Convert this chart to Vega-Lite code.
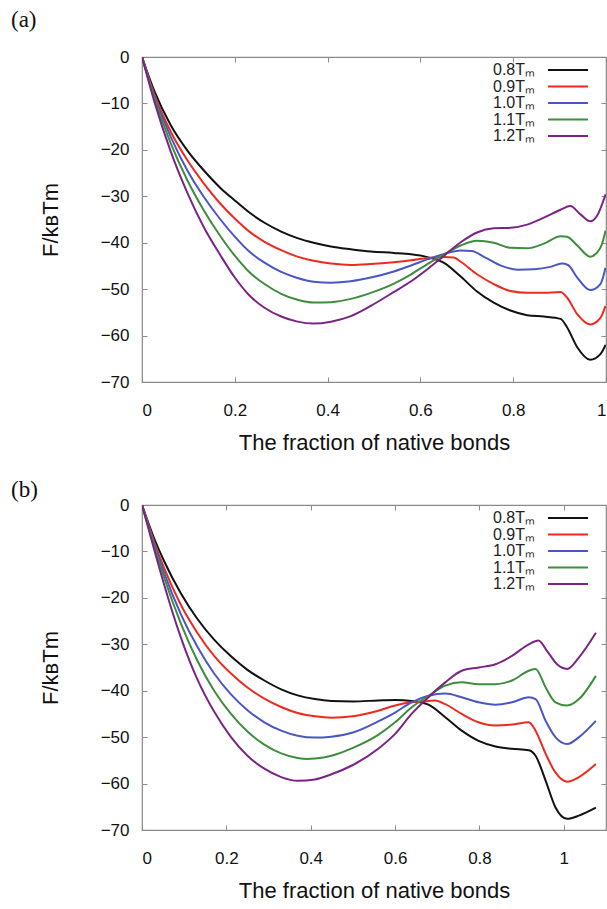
{
"$schema": "https://vega.github.io/schema/vega-lite/v6.json",
"background": "white",
"padding": {"left": 10, "top": 8, "right": 2, "bottom": 0},
"spacing": 24,
"config": {
 "view": {"stroke": "#8a8a8a", "strokeWidth": 1.2},
 "font": "Liberation Sans",
 "axis": {"grid": false, "domain": false, "tickColor": "#8a8a8a", "tickSize": -5, "labelFont": "Liberation Sans", "labelFontSize": 17, "labelColor": "#111", "titleFont": "Liberation Sans", "titleFontSize": 22, "titleFontWeight": "normal", "titleColor": "#111"},
 "legend": {"orient": "none", "legendX": 418, "legendY": 5, "title": null, "symbolType": "M-5,0L5,0", "symbolSize": 64, "symbolStrokeWidth": 2, "labelAlign": "right", "labelOffset": -41, "labelFontSize": 16, "labelFont": "Liberation Sans", "labelColor": "#222", "rowPadding": 0.5}
},
"resolve": {"scale": {"color": "independent", "x": "independent", "y": "independent"}, "legend": {"color": "independent"}},
"datasets": {
"a": [
{"s":"0.8Tₘ","x":0,"y":0},{"s":"0.8Tₘ","x":0.026,"y":-7.2},{"s":"0.8Tₘ","x":0.062,"y":-14.7},{"s":"0.8Tₘ","x":0.0975,"y":-20.1},{"s":"0.8Tₘ","x":0.133,"y":-24.4},{"s":"0.8Tₘ","x":0.169,"y":-28.2},{"s":"0.8Tₘ","x":0.2,"y":-30.9},{"s":"0.8Tₘ","x":0.23,"y":-33.4},{"s":"0.8Tₘ","x":0.264,"y":-35.7},{"s":"0.8Tₘ","x":0.3,"y":-37.6},{"s":"0.8Tₘ","x":0.335,"y":-39},{"s":"0.8Tₘ","x":0.37,"y":-40},{"s":"0.8Tₘ","x":0.407,"y":-40.8},{"s":"0.8Tₘ","x":0.45,"y":-41.4},{"s":"0.8Tₘ","x":0.493,"y":-41.9},{"s":"0.8Tₘ","x":0.543,"y":-42.2},{"s":"0.8Tₘ","x":0.58,"y":-42.5},{"s":"0.8Tₘ","x":0.615,"y":-43.1},{"s":"0.8Tₘ","x":0.65,"y":-44.3},{"s":"0.8Tₘ","x":0.687,"y":-47.3},{"s":"0.8Tₘ","x":0.722,"y":-50.5},{"s":"0.8Tₘ","x":0.758,"y":-52.9},{"s":"0.8Tₘ","x":0.794,"y":-54.6},{"s":"0.8Tₘ","x":0.83,"y":-55.6},{"s":"0.8Tₘ","x":0.866,"y":-55.9},{"s":"0.8Tₘ","x":0.902,"y":-56.4},{"s":"0.8Tₘ","x":0.916,"y":-58.2},{"s":"0.8Tₘ","x":0.938,"y":-62.5},{"s":"0.8Tₘ","x":0.966,"y":-65.2},{"s":"0.8Tₘ","x":0.988,"y":-64},{"s":"0.8Tₘ","x":0.999,"y":-62},
{"s":"0.9Tₘ","x":0,"y":0},{"s":"0.9Tₘ","x":0.026,"y":-7.9},{"s":"0.9Tₘ","x":0.062,"y":-16.1},{"s":"0.9Tₘ","x":0.0975,"y":-22.2},{"s":"0.9Tₘ","x":0.133,"y":-27.2},{"s":"0.9Tₘ","x":0.169,"y":-31.6},{"s":"0.9Tₘ","x":0.2,"y":-34.8},{"s":"0.9Tₘ","x":0.23,"y":-37.5},{"s":"0.9Tₘ","x":0.264,"y":-39.8},{"s":"0.9Tₘ","x":0.3,"y":-41.6},{"s":"0.9Tₘ","x":0.335,"y":-43},{"s":"0.9Tₘ","x":0.37,"y":-43.9},{"s":"0.9Tₘ","x":0.407,"y":-44.5},{"s":"0.9Tₘ","x":0.45,"y":-44.8},{"s":"0.9Tₘ","x":0.493,"y":-44.6},{"s":"0.9Tₘ","x":0.543,"y":-44.2},{"s":"0.9Tₘ","x":0.58,"y":-43.8},{"s":"0.9Tₘ","x":0.615,"y":-43.3},{"s":"0.9Tₘ","x":0.651,"y":-43.1},{"s":"0.9Tₘ","x":0.672,"y":-43.2},{"s":"0.9Tₘ","x":0.687,"y":-44.1},{"s":"0.9Tₘ","x":0.722,"y":-46.8},{"s":"0.9Tₘ","x":0.758,"y":-48.9},{"s":"0.9Tₘ","x":0.794,"y":-50.4},{"s":"0.9Tₘ","x":0.83,"y":-50.8},{"s":"0.9Tₘ","x":0.866,"y":-50.8},{"s":"0.9Tₘ","x":0.902,"y":-50.6},{"s":"0.9Tₘ","x":0.916,"y":-51.8},{"s":"0.9Tₘ","x":0.938,"y":-55.4},{"s":"0.9Tₘ","x":0.966,"y":-57.6},{"s":"0.9Tₘ","x":0.988,"y":-56.2},{"s":"0.9Tₘ","x":0.999,"y":-53.6},
{"s":"1.0Tₘ","x":0,"y":0},{"s":"1.0Tₘ","x":0.026,"y":-8.3},{"s":"1.0Tₘ","x":0.062,"y":-17.2},{"s":"1.0Tₘ","x":0.0975,"y":-24.4},{"s":"1.0Tₘ","x":0.133,"y":-30.1},{"s":"1.0Tₘ","x":0.169,"y":-35},{"s":"1.0Tₘ","x":0.2,"y":-38.7},{"s":"1.0Tₘ","x":0.23,"y":-41.8},{"s":"1.0Tₘ","x":0.264,"y":-44.3},{"s":"1.0Tₘ","x":0.3,"y":-46.3},{"s":"1.0Tₘ","x":0.335,"y":-47.6},{"s":"1.0Tₘ","x":0.37,"y":-48.4},{"s":"1.0Tₘ","x":0.407,"y":-48.6},{"s":"1.0Tₘ","x":0.45,"y":-48.3},{"s":"1.0Tₘ","x":0.493,"y":-47.5},{"s":"1.0Tₘ","x":0.543,"y":-46.2},{"s":"1.0Tₘ","x":0.58,"y":-44.9},{"s":"1.0Tₘ","x":0.615,"y":-43.6},{"s":"1.0Tₘ","x":0.651,"y":-42.4},{"s":"1.0Tₘ","x":0.687,"y":-41.7},{"s":"1.0Tₘ","x":0.71,"y":-41.8},{"s":"1.0Tₘ","x":0.74,"y":-43.2},{"s":"1.0Tₘ","x":0.775,"y":-45},{"s":"1.0Tₘ","x":0.81,"y":-45.8},{"s":"1.0Tₘ","x":0.845,"y":-45.7},{"s":"1.0Tₘ","x":0.88,"y":-45.2},{"s":"1.0Tₘ","x":0.905,"y":-44.5},{"s":"1.0Tₘ","x":0.918,"y":-44.8},{"s":"1.0Tₘ","x":0.938,"y":-47.5},{"s":"1.0Tₘ","x":0.966,"y":-50.2},{"s":"1.0Tₘ","x":0.988,"y":-48.9},{"s":"1.0Tₘ","x":0.999,"y":-45.4},
{"s":"1.1Tₘ","x":0,"y":0},{"s":"1.1Tₘ","x":0.026,"y":-8.7},{"s":"1.1Tₘ","x":0.062,"y":-18.6},{"s":"1.1Tₘ","x":0.0975,"y":-26.5},{"s":"1.1Tₘ","x":0.133,"y":-33},{"s":"1.1Tₘ","x":0.169,"y":-38.6},{"s":"1.1Tₘ","x":0.2,"y":-42.8},{"s":"1.1Tₘ","x":0.23,"y":-46.2},{"s":"1.1Tₘ","x":0.264,"y":-48.9},{"s":"1.1Tₘ","x":0.3,"y":-51},{"s":"1.1Tₘ","x":0.335,"y":-52.3},{"s":"1.1Tₘ","x":0.37,"y":-52.9},{"s":"1.1Tₘ","x":0.407,"y":-52.8},{"s":"1.1Tₘ","x":0.45,"y":-52.1},{"s":"1.1Tₘ","x":0.493,"y":-50.8},{"s":"1.1Tₘ","x":0.543,"y":-48.8},{"s":"1.1Tₘ","x":0.58,"y":-46.8},{"s":"1.1Tₘ","x":0.615,"y":-44.6},{"s":"1.1Tₘ","x":0.651,"y":-42.5},{"s":"1.1Tₘ","x":0.687,"y":-40.6},{"s":"1.1Tₘ","x":0.722,"y":-39.6},{"s":"1.1Tₘ","x":0.758,"y":-40},{"s":"1.1Tₘ","x":0.794,"y":-41.1},{"s":"1.1Tₘ","x":0.83,"y":-41.2},{"s":"1.1Tₘ","x":0.866,"y":-40.2},{"s":"1.1Tₘ","x":0.902,"y":-38.6},{"s":"1.1Tₘ","x":0.916,"y":-38.7},{"s":"1.1Tₘ","x":0.938,"y":-40.6},{"s":"1.1Tₘ","x":0.966,"y":-43},{"s":"1.1Tₘ","x":0.988,"y":-41.1},{"s":"1.1Tₘ","x":0.999,"y":-37.4},
{"s":"1.2Tₘ","x":0,"y":0},{"s":"1.2Tₘ","x":0.026,"y":-9.4},{"s":"1.2Tₘ","x":0.062,"y":-20.4},{"s":"1.2Tₘ","x":0.0975,"y":-29.2},{"s":"1.2Tₘ","x":0.133,"y":-36.6},{"s":"1.2Tₘ","x":0.169,"y":-42.7},{"s":"1.2Tₘ","x":0.2,"y":-47.5},{"s":"1.2Tₘ","x":0.23,"y":-51.2},{"s":"1.2Tₘ","x":0.264,"y":-54},{"s":"1.2Tₘ","x":0.3,"y":-55.9},{"s":"1.2Tₘ","x":0.335,"y":-57},{"s":"1.2Tₘ","x":0.37,"y":-57.4},{"s":"1.2Tₘ","x":0.407,"y":-57},{"s":"1.2Tₘ","x":0.45,"y":-55.8},{"s":"1.2Tₘ","x":0.493,"y":-53.6},{"s":"1.2Tₘ","x":0.543,"y":-50.6},{"s":"1.2Tₘ","x":0.58,"y":-48.3},{"s":"1.2Tₘ","x":0.615,"y":-45.7},{"s":"1.2Tₘ","x":0.651,"y":-42.8},{"s":"1.2Tₘ","x":0.687,"y":-39.9},{"s":"1.2Tₘ","x":0.722,"y":-37.8},{"s":"1.2Tₘ","x":0.758,"y":-36.9},{"s":"1.2Tₘ","x":0.794,"y":-36.8},{"s":"1.2Tₘ","x":0.83,"y":-36.1},{"s":"1.2Tₘ","x":0.866,"y":-34.6},{"s":"1.2Tₘ","x":0.902,"y":-32.9},{"s":"1.2Tₘ","x":0.923,"y":-32.1},{"s":"1.2Tₘ","x":0.945,"y":-33.9},{"s":"1.2Tₘ","x":0.966,"y":-35.4},{"s":"1.2Tₘ","x":0.98,"y":-34.3},{"s":"1.2Tₘ","x":0.999,"y":-29.6}
],
"b": [
{"s":"0.8Tₘ","x":0,"y":0},{"s":"0.8Tₘ","x":0.028,"y":-7},{"s":"0.8Tₘ","x":0.052,"y":-12},{"s":"0.8Tₘ","x":0.092,"y":-19},{"s":"0.8Tₘ","x":0.131,"y":-24.5},{"s":"0.8Tₘ","x":0.171,"y":-29},{"s":"0.8Tₘ","x":0.211,"y":-32.6},{"s":"0.8Tₘ","x":0.25,"y":-35.5},{"s":"0.8Tₘ","x":0.29,"y":-37.8},{"s":"0.8Tₘ","x":0.33,"y":-39.7},{"s":"0.8Tₘ","x":0.369,"y":-41},{"s":"0.8Tₘ","x":0.41,"y":-41.8},{"s":"0.8Tₘ","x":0.449,"y":-42.2},{"s":"0.8Tₘ","x":0.5,"y":-42.3},{"s":"0.8Tₘ","x":0.56,"y":-42.1},{"s":"0.8Tₘ","x":0.6,"y":-42},{"s":"0.8Tₘ","x":0.639,"y":-42.2},{"s":"0.8Tₘ","x":0.679,"y":-43},{"s":"0.8Tₘ","x":0.719,"y":-45.7},{"s":"0.8Tₘ","x":0.758,"y":-48.6},{"s":"0.8Tₘ","x":0.798,"y":-50.8},{"s":"0.8Tₘ","x":0.838,"y":-52},{"s":"0.8Tₘ","x":0.877,"y":-52.5},{"s":"0.8Tₘ","x":0.917,"y":-52.8},{"s":"0.8Tₘ","x":0.933,"y":-54},{"s":"0.8Tₘ","x":0.957,"y":-59.4},{"s":"0.8Tₘ","x":0.98,"y":-65.1},{"s":"0.8Tₘ","x":1.008,"y":-67.6},{"s":"0.8Tₘ","x":1.036,"y":-66.9},{"s":"0.8Tₘ","x":1.076,"y":-65.2},
{"s":"0.9Tₘ","x":0,"y":0},{"s":"0.9Tₘ","x":0.028,"y":-7.7},{"s":"0.9Tₘ","x":0.052,"y":-13.5},{"s":"0.9Tₘ","x":0.092,"y":-21.5},{"s":"0.9Tₘ","x":0.131,"y":-27.5},{"s":"0.9Tₘ","x":0.171,"y":-32.5},{"s":"0.9Tₘ","x":0.211,"y":-36.3},{"s":"0.9Tₘ","x":0.25,"y":-39.3},{"s":"0.9Tₘ","x":0.29,"y":-41.7},{"s":"0.9Tₘ","x":0.33,"y":-43.5},{"s":"0.9Tₘ","x":0.369,"y":-44.8},{"s":"0.9Tₘ","x":0.41,"y":-45.5},{"s":"0.9Tₘ","x":0.449,"y":-45.8},{"s":"0.9Tₘ","x":0.5,"y":-45.5},{"s":"0.9Tₘ","x":0.56,"y":-44.3},{"s":"0.9Tₘ","x":0.6,"y":-43.2},{"s":"0.9Tₘ","x":0.639,"y":-42.5},{"s":"0.9Tₘ","x":0.679,"y":-42.2},{"s":"0.9Tₘ","x":0.695,"y":-42.1},{"s":"0.9Tₘ","x":0.719,"y":-42.9},{"s":"0.9Tₘ","x":0.758,"y":-45},{"s":"0.9Tₘ","x":0.798,"y":-46.8},{"s":"0.9Tₘ","x":0.838,"y":-47.5},{"s":"0.9Tₘ","x":0.877,"y":-47.3},{"s":"0.9Tₘ","x":0.917,"y":-46.8},{"s":"0.9Tₘ","x":0.933,"y":-48.6},{"s":"0.9Tₘ","x":0.957,"y":-53.6},{"s":"0.9Tₘ","x":0.98,"y":-57.6},{"s":"0.9Tₘ","x":1.008,"y":-59.6},{"s":"0.9Tₘ","x":1.036,"y":-58.6},{"s":"0.9Tₘ","x":1.076,"y":-55.8},
{"s":"1.0Tₘ","x":0,"y":0},{"s":"1.0Tₘ","x":0.028,"y":-8.1},{"s":"1.0Tₘ","x":0.052,"y":-14.5},{"s":"1.0Tₘ","x":0.092,"y":-23.5},{"s":"1.0Tₘ","x":0.131,"y":-30.5},{"s":"1.0Tₘ","x":0.171,"y":-36.3},{"s":"1.0Tₘ","x":0.211,"y":-40.8},{"s":"1.0Tₘ","x":0.25,"y":-44.2},{"s":"1.0Tₘ","x":0.29,"y":-46.8},{"s":"1.0Tₘ","x":0.33,"y":-48.6},{"s":"1.0Tₘ","x":0.369,"y":-49.7},{"s":"1.0Tₘ","x":0.41,"y":-50.1},{"s":"1.0Tₘ","x":0.449,"y":-49.9},{"s":"1.0Tₘ","x":0.5,"y":-49},{"s":"1.0Tₘ","x":0.56,"y":-46.6},{"s":"1.0Tₘ","x":0.6,"y":-44.7},{"s":"1.0Tₘ","x":0.639,"y":-42.5},{"s":"1.0Tₘ","x":0.679,"y":-41.1},{"s":"1.0Tₘ","x":0.719,"y":-40.6},{"s":"1.0Tₘ","x":0.758,"y":-41.4},{"s":"1.0Tₘ","x":0.798,"y":-42.5},{"s":"1.0Tₘ","x":0.838,"y":-43},{"s":"1.0Tₘ","x":0.877,"y":-42.5},{"s":"1.0Tₘ","x":0.917,"y":-41.4},{"s":"1.0Tₘ","x":0.933,"y":-41.8},{"s":"1.0Tₘ","x":0.957,"y":-46.5},{"s":"1.0Tₘ","x":0.98,"y":-50},{"s":"1.0Tₘ","x":1.008,"y":-51.5},{"s":"1.0Tₘ","x":1.036,"y":-50},{"s":"1.0Tₘ","x":1.076,"y":-46.5},
{"s":"1.1Tₘ","x":0,"y":0},{"s":"1.1Tₘ","x":0.028,"y":-8.6},{"s":"1.1Tₘ","x":0.052,"y":-15.5},{"s":"1.1Tₘ","x":0.092,"y":-25.5},{"s":"1.1Tₘ","x":0.131,"y":-33.5},{"s":"1.1Tₘ","x":0.171,"y":-40},{"s":"1.1Tₘ","x":0.211,"y":-45},{"s":"1.1Tₘ","x":0.25,"y":-48.8},{"s":"1.1Tₘ","x":0.29,"y":-51.6},{"s":"1.1Tₘ","x":0.33,"y":-53.5},{"s":"1.1Tₘ","x":0.369,"y":-54.5},{"s":"1.1Tₘ","x":0.392,"y":-54.7},{"s":"1.1Tₘ","x":0.41,"y":-54.6},{"s":"1.1Tₘ","x":0.449,"y":-54},{"s":"1.1Tₘ","x":0.5,"y":-52.3},{"s":"1.1Tₘ","x":0.56,"y":-49.5},{"s":"1.1Tₘ","x":0.6,"y":-46.8},{"s":"1.1Tₘ","x":0.639,"y":-43.6},{"s":"1.1Tₘ","x":0.679,"y":-41.1},{"s":"1.1Tₘ","x":0.719,"y":-38.9},{"s":"1.1Tₘ","x":0.758,"y":-38.2},{"s":"1.1Tₘ","x":0.798,"y":-38.6},{"s":"1.1Tₘ","x":0.838,"y":-38.6},{"s":"1.1Tₘ","x":0.877,"y":-37.8},{"s":"1.1Tₘ","x":0.917,"y":-35.7},{"s":"1.1Tₘ","x":0.933,"y":-35.3},{"s":"1.1Tₘ","x":0.957,"y":-39.3},{"s":"1.1Tₘ","x":0.98,"y":-42.5},{"s":"1.1Tₘ","x":1.008,"y":-43.2},{"s":"1.1Tₘ","x":1.036,"y":-41.8},{"s":"1.1Tₘ","x":1.076,"y":-36.8},
{"s":"1.2Tₘ","x":0,"y":0},{"s":"1.2Tₘ","x":0.028,"y":-9.3},{"s":"1.2Tₘ","x":0.052,"y":-17},{"s":"1.2Tₘ","x":0.092,"y":-28.5},{"s":"1.2Tₘ","x":0.131,"y":-37.5},{"s":"1.2Tₘ","x":0.171,"y":-44.5},{"s":"1.2Tₘ","x":0.211,"y":-50},{"s":"1.2Tₘ","x":0.25,"y":-54},{"s":"1.2Tₘ","x":0.29,"y":-56.8},{"s":"1.2Tₘ","x":0.33,"y":-58.6},{"s":"1.2Tₘ","x":0.369,"y":-59.4},{"s":"1.2Tₘ","x":0.41,"y":-59.1},{"s":"1.2Tₘ","x":0.449,"y":-58},{"s":"1.2Tₘ","x":0.5,"y":-56},{"s":"1.2Tₘ","x":0.56,"y":-52.5},{"s":"1.2Tₘ","x":0.6,"y":-49.3},{"s":"1.2Tₘ","x":0.639,"y":-45},{"s":"1.2Tₘ","x":0.679,"y":-41.4},{"s":"1.2Tₘ","x":0.719,"y":-38.2},{"s":"1.2Tₘ","x":0.758,"y":-35.7},{"s":"1.2Tₘ","x":0.798,"y":-35},{"s":"1.2Tₘ","x":0.838,"y":-34.3},{"s":"1.2Tₘ","x":0.877,"y":-32.5},{"s":"1.2Tₘ","x":0.917,"y":-30},{"s":"1.2Tₘ","x":0.94,"y":-29.2},{"s":"1.2Tₘ","x":0.96,"y":-31.4},{"s":"1.2Tₘ","x":0.984,"y":-34.3},{"s":"1.2Tₘ","x":1.008,"y":-35.3},{"s":"1.2Tₘ","x":1.036,"y":-32.8},{"s":"1.2Tₘ","x":1.076,"y":-27.5}
]
},
"vconcat": [
{
 "width": 464, "height": 325,
 "title": {"text": "(a)", "anchor": "start", "frame": "group", "dx": -131, "offset": 16, "font": "Liberation Serif", "fontSize": 23, "fontWeight": "normal", "color": "#111"},
 "data": {"name": "a"},
 "layer": [
  {"mark": {"type": "line", "interpolate": "monotone", "strokeWidth": 2, "clip": true},
   "encoding": {
    "x": {"field": "x", "type": "quantitative", "scale": {"domain": [0, 1], "nice": false}, "axis": {"values": [0, 0.2, 0.4, 0.6, 0.8, 1], "format": "~g", "title": "The fraction of native bonds", "labelPadding": 25, "titlePadding": 14}},
    "y": {"field": "y", "type": "quantitative", "scale": {"domain": [-70, 0], "nice": false}, "axis": {"values": [0, -10, -20, -30, -40, -50, -60, -70], "title": "F/kʙTm", "labelPadding": 18, "titlePadding": 38}},
    "color": {"field": "s", "type": "nominal", "scale": {"domain": ["0.8Tₘ", "0.9Tₘ", "1.0Tₘ", "1.1Tₘ", "1.2Tₘ"], "range": ["#111111", "#ee2a1e", "#4a56c4", "#3d8d3d", "#7a2585"]}}
   }},
  {"mark": {"type": "line", "opacity": 0},
   "encoding": {
    "x": {"field": "x", "type": "quantitative", "axis": {"orient": "top", "values": [0, 0.2, 0.4, 0.6, 0.8, 1], "labels": false, "title": null}},
    "y": {"field": "y", "type": "quantitative", "axis": {"orient": "right", "values": [0, -10, -20, -30, -40, -50, -60, -70], "labels": false, "title": null}}
   }}
 ],
 "resolve": {"axis": {"x": "independent", "y": "independent"}}
},
{
 "width": 464, "height": 325,
 "title": {"text": "(b)", "anchor": "start", "frame": "group", "dx": -131, "offset": -6, "font": "Liberation Serif", "fontSize": 23, "fontWeight": "normal", "color": "#111"},
 "data": {"name": "b"},
 "layer": [
  {"mark": {"type": "line", "interpolate": "monotone", "strokeWidth": 2, "clip": true},
   "encoding": {
    "x": {"field": "x", "type": "quantitative", "scale": {"domain": [0, 1.1], "nice": false}, "axis": {"values": [0, 0.2, 0.4, 0.6, 0.8, 1], "format": "~g", "title": "The fraction of native bonds", "labelPadding": 25, "titlePadding": 14}},
    "y": {"field": "y", "type": "quantitative", "scale": {"domain": [-70, 0], "nice": false}, "axis": {"values": [0, -10, -20, -30, -40, -50, -60, -70], "title": "F/kʙTm", "labelPadding": 18, "titlePadding": 38}},
    "color": {"field": "s", "type": "nominal", "scale": {"domain": ["0.8Tₘ", "0.9Tₘ", "1.0Tₘ", "1.1Tₘ", "1.2Tₘ"], "range": ["#111111", "#ee2a1e", "#4a56c4", "#3d8d3d", "#7a2585"]}}
   }},
  {"mark": {"type": "line", "opacity": 0},
   "encoding": {
    "x": {"field": "x", "type": "quantitative", "axis": {"orient": "top", "values": [0, 0.2, 0.4, 0.6, 0.8, 1], "labels": false, "title": null}},
    "y": {"field": "y", "type": "quantitative", "axis": {"orient": "right", "values": [0, -10, -20, -30, -40, -50, -60, -70], "labels": false, "title": null}}
   }}
 ],
 "resolve": {"axis": {"x": "independent", "y": "independent"}}
}
]
}
